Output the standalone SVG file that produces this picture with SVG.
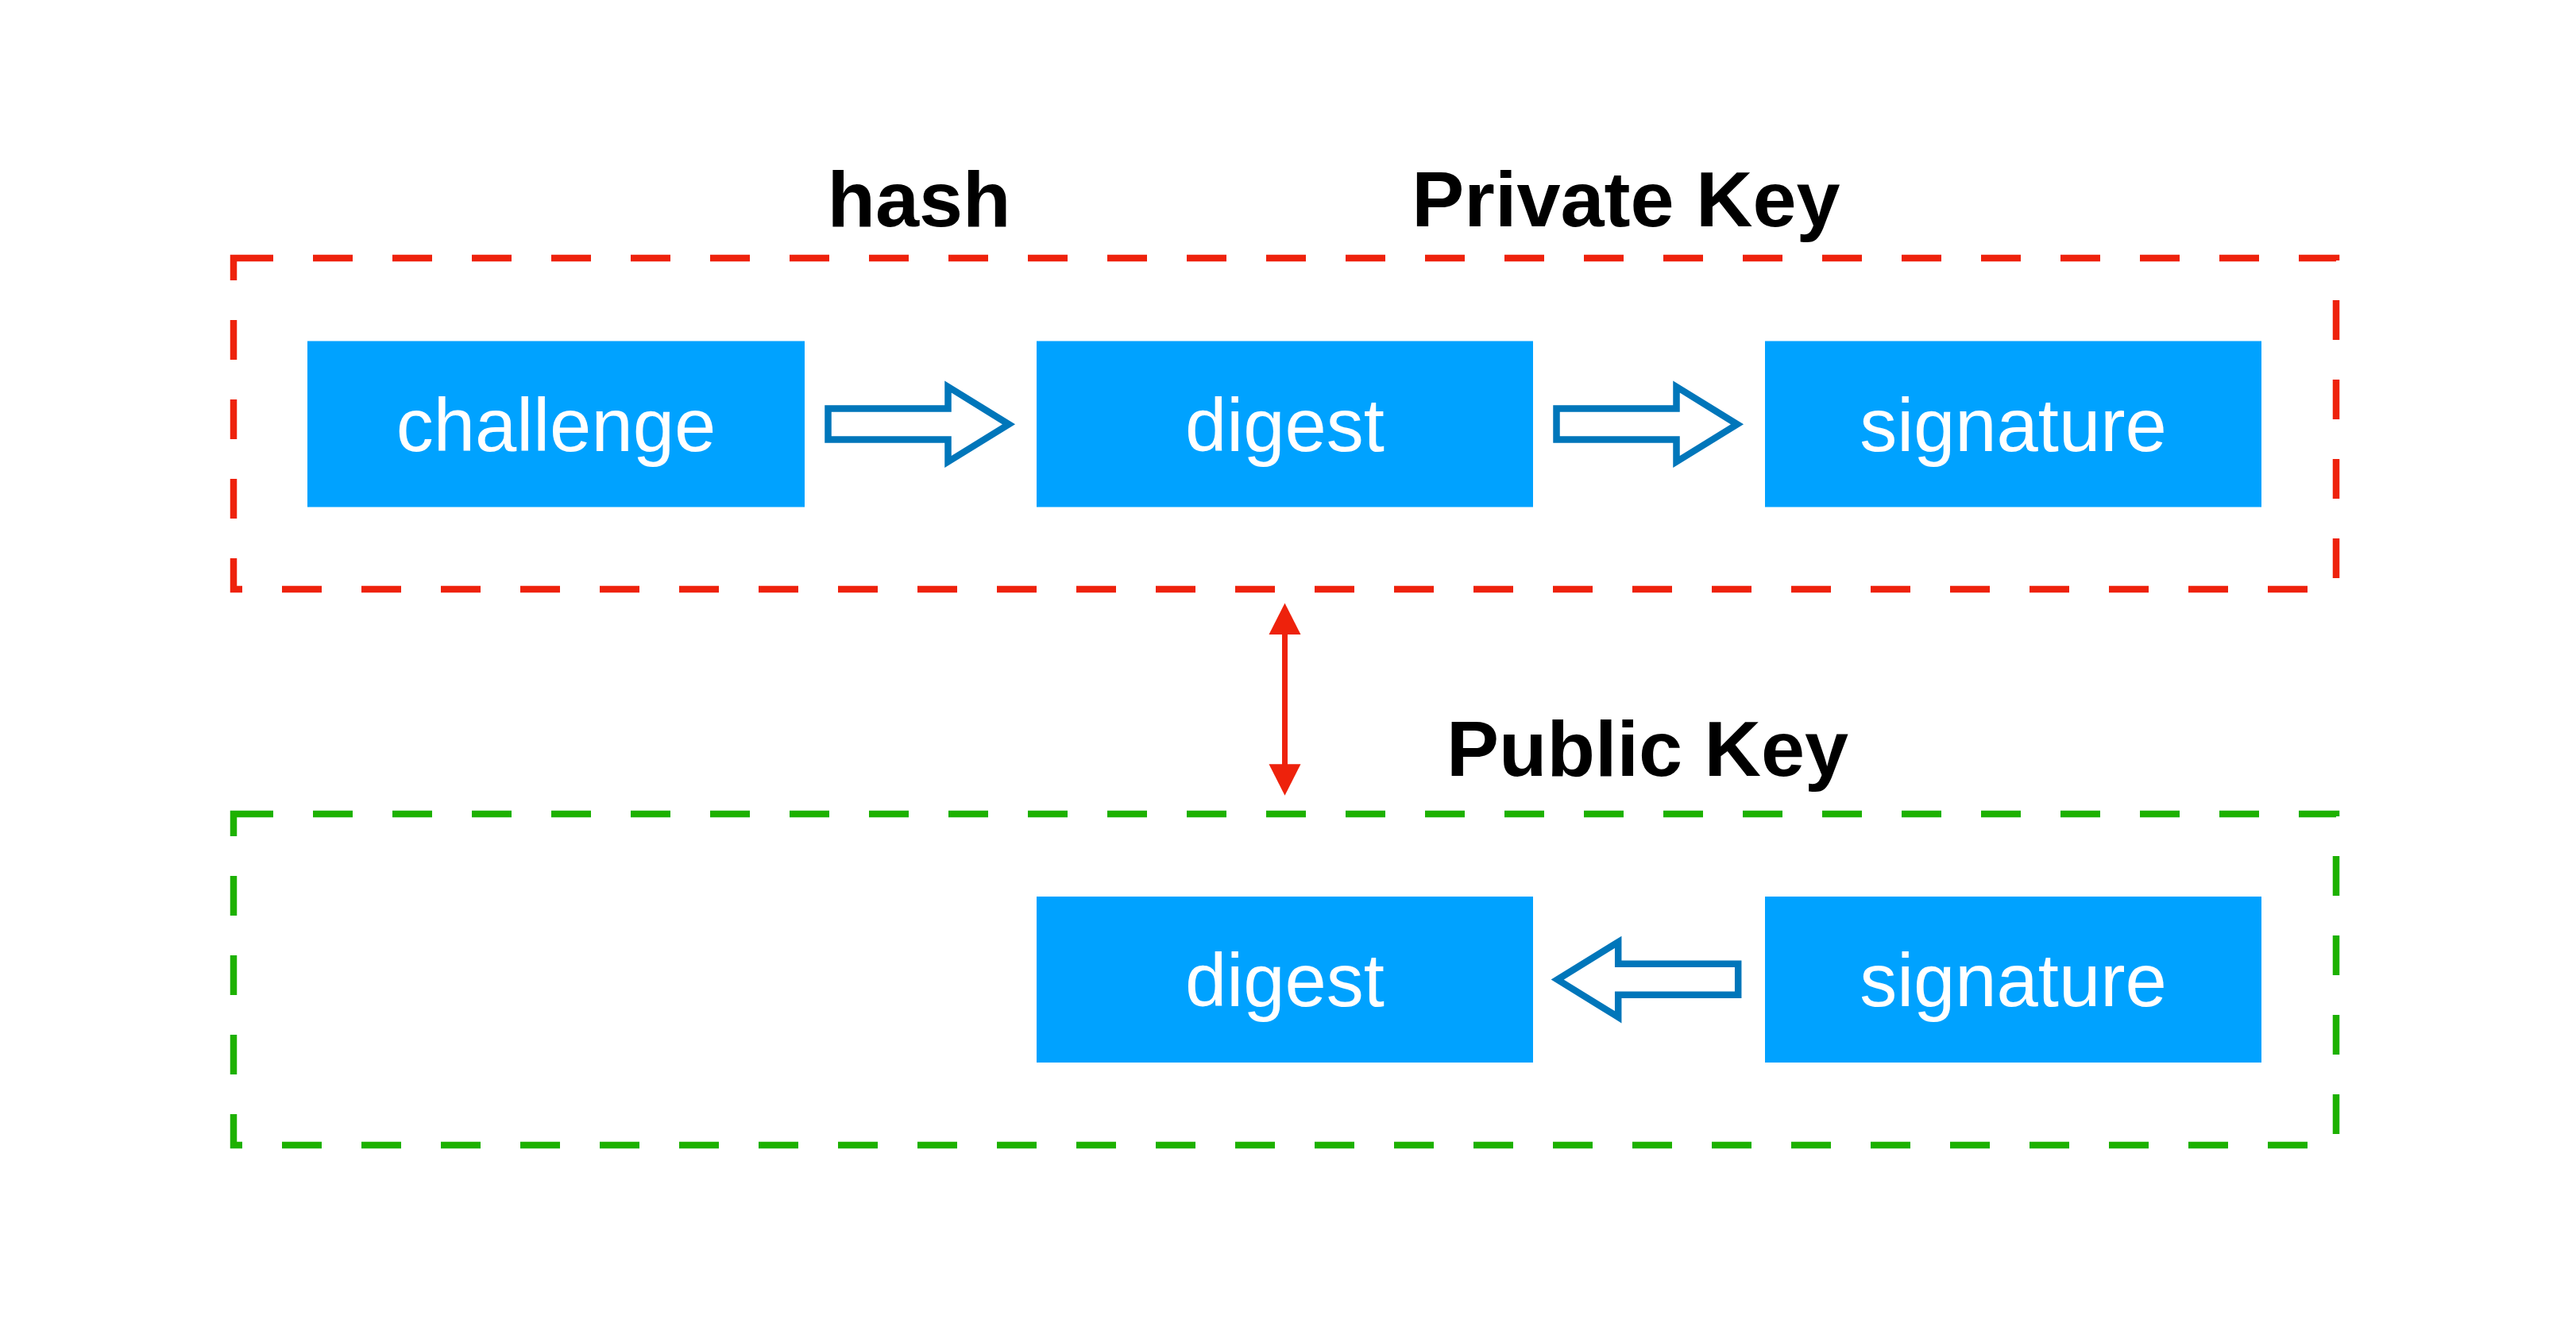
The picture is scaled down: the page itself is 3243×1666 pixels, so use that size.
<svg xmlns="http://www.w3.org/2000/svg" width="3243" height="1666" viewBox="0 0 3243 1666">
  <style>
    .frame { fill: none; stroke-width: 8.5; stroke-dasharray: 50 50; }
    .box { fill: #00A2FF; }
    .lbl { font-family: "Liberation Sans", Arial, Helvetica, sans-serif; font-size: 94px; fill: #FFFFFF; text-anchor: middle; }
    .title { font-family: "Liberation Sans", Arial, Helvetica, sans-serif; font-size: 99px; font-weight: bold; fill: #000000; text-anchor: middle; }
    .blk { fill: #FFFFFF; stroke: #0076BA; stroke-width: 8.5; stroke-linejoin: miter; stroke-miterlimit: 10; }
    .red { fill: #EE220C; }
  </style>
  <rect width="3243" height="1666" fill="#FFFFFF"/>

  <g id="private-frame">
    <path class="frame" stroke="#EE220C" d="M294,325 H2941 V742 H294 Z"/>
    <text class="title" x="2047" y="285">Private Key</text>
  </g>
  <g id="public-frame">
    <path class="frame" stroke="#1DB100" d="M294,1025 H2941 V1442 H294 Z"/>
    <text class="title" x="2074" y="977">Public Key</text>
  </g>
  <g id="hash-label">
    <text class="title" x="1157" y="285">hash</text>
  </g>

  <g id="challenge">
    <rect class="box" x="387" y="429.5" width="626" height="209"/>
    <text class="lbl" x="700" y="567.5">challenge</text>
  </g>
  <g id="digest-private">
    <rect class="box" x="1305" y="429.5" width="625" height="209"/>
    <text class="lbl" x="1617.5" y="567.5">digest</text>
  </g>
  <g id="signature-private">
    <rect class="box" x="2222" y="429.5" width="625" height="209"/>
    <text class="lbl" x="2534.5" y="567.5">signature</text>
  </g>
  <g id="digest-public">
    <rect class="box" x="1305" y="1129" width="625" height="209"/>
    <text class="lbl" x="1617.5" y="1267">digest</text>
  </g>
  <g id="signature-public">
    <rect class="box" x="2222" y="1129" width="625" height="209"/>
    <text class="lbl" x="2534.5" y="1267">signature</text>
  </g>

  <g id="connectors">
    <polygon class="blk" points="1042.5,514.5 1193.5,514.5 1193.5,487 1270,534.3 1193.5,581.5 1193.5,553.5 1042.5,553.5"/>
    <polygon class="blk" points="1959.5,514.5 2110.5,514.5 2110.5,487 2187,534.3 2110.5,581.5 2110.5,553.5 1959.5,553.5"/>
    <polygon class="blk" points="2188.2,1213.8 2037.2,1213.8 2037.2,1186.3 1960.7,1233.6 2037.2,1280.8 2037.2,1252.8 2188.2,1252.8"/>
    <line x1="1617.5" y1="795" x2="1617.5" y2="966" stroke="#EE220C" stroke-width="7"/>
    <polygon class="red" points="1617.5,759.5 1637.5,799 1597.5,799"/>
    <polygon class="red" points="1617.5,1001.8 1637.5,962.3 1597.5,962.3"/>
  </g>
</svg>
